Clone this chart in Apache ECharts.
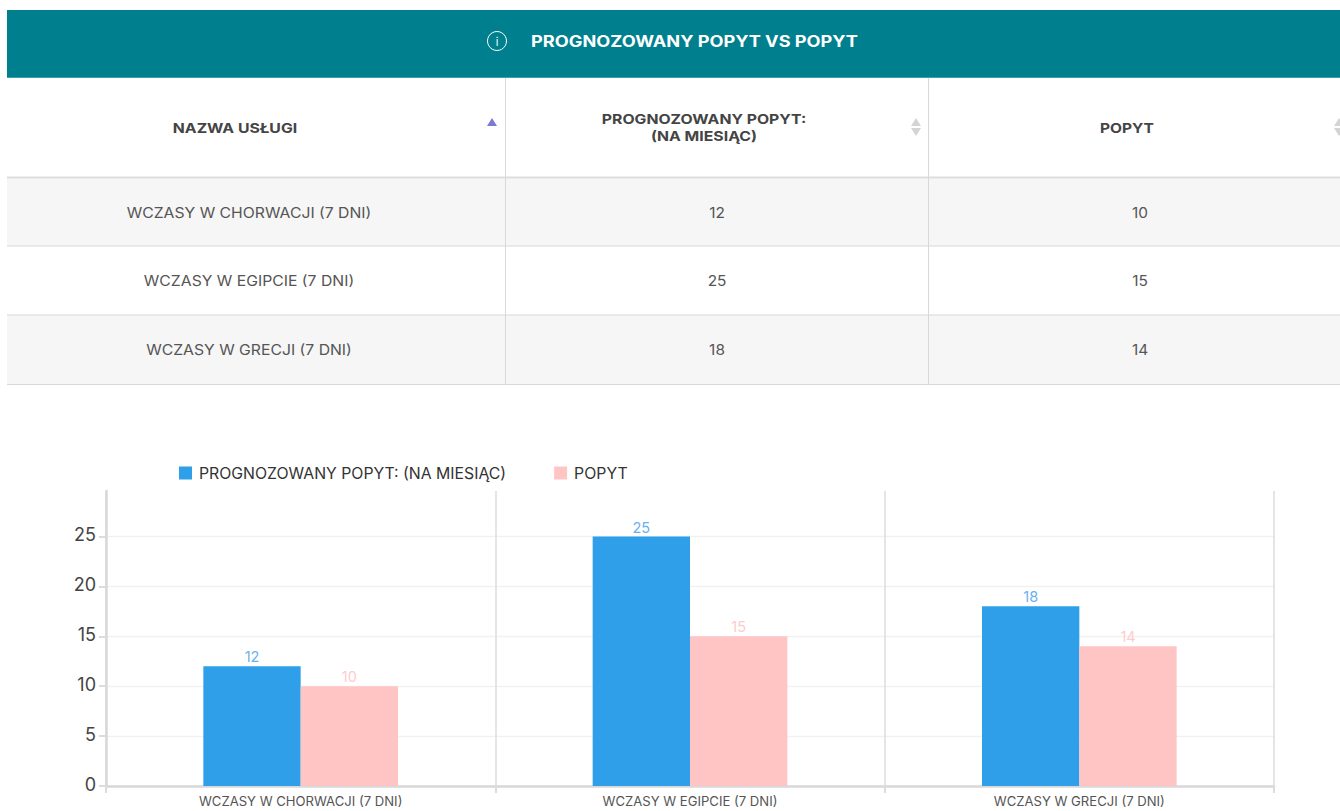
<!DOCTYPE html>
<html><head><meta charset="utf-8">
<style>html,body{margin:0;padding:0;background:#fff}#c{width:1340px;height:811px}</style>
<script src="https://cdn.jsdelivr.net/npm/echarts@6/dist/echarts.min.js"></script>
</head><body><div id="c"></div>
<script>
const tableTitle = 'PROGNOZOWANY POPYT VS POPYT';
const columnHeaders = ['NAZWA USŁUGI', 'PROGNOZOWANY POPYT:\n(NA MIESIĄC)', 'POPYT'];
const categories = ['WCZASY W CHORWACJI (7 DNI)', 'WCZASY W EGIPCIE (7 DNI)', 'WCZASY W GRECJI (7 DNI)'];
const forecastName = 'PROGNOZOWANY POPYT: (NA MIESIĄC)';
const demandName = 'POPYT';
const forecastValues = [12, 25, 18];
const demandValues = [10, 15, 14];

const FONT = 'Inter, "Open Sans", sans-serif';
const chart = echarts.init(document.getElementById('c'), null, {renderer: 'svg'});
const g = [];
const rect = (x, y, w, h, fill) => g.push({type: 'rect', silent: true, shape: {x, y, width: w, height: h}, style: {fill}});
const text = (x, y, t, size, weight, fill, sx, lh) => g.push({type: 'text', silent: true, x, y, scaleX: sx || 1, style: {
  text: t, fontFamily: FONT, fontSize: size, fontWeight: weight, fill, align: 'center', verticalAlign: 'middle', lineHeight: lh || size * 1.2}});
const tri = (x, yTop, w, h, up, fill) => g.push({type: 'polygon', silent: true, shape: {points: up
  ? [[x - w / 2, yTop + h], [x + w / 2, yTop + h], [x, yTop]]
  : [[x - w / 2, yTop], [x + w / 2, yTop], [x, yTop + h]]}, style: {fill}});

// banner
rect(7, 10, 1333, 67, '#00808e');
rect(7, 77, 1333, 1, '#3aa3ad');
g.push({type: 'circle', silent: true, shape: {cx: 497, cy: 41, r: 9.5}, style: {fill: 'none', stroke: '#fff', lineWidth: 1}});
text(497, 41.5, 'i', 11, 400, '#fff');
text(694.5, 41.5, tableTitle, 15.5, 700, '#fff', 1.172);

// rows
const rowTops = [178, 246, 315];
const rowH = 68;
rect(7, rowTops[0], 1333, rowH, '#f6f6f6');
rect(7, rowTops[2], 1333, rowH + 1, '#f6f6f6');
rect(7, 176.5, 1333, 2, '#dddddd');
rowTops.slice(1).forEach(y => rect(7, y - 0.5, 1333, 1, '#d8d8d8'));
rect(7, 384, 1333, 1, '#d8d8d8');
rect(505, 78, 1, 307, '#d8d8d8');
rect(928, 78, 1, 307, '#d8d8d8');

// header
text(235, 128.5, columnHeaders[0], 13.5, 700, '#444', 1.17);
text(704, 128, columnHeaders[1], 13.5, 700, '#444', 1.17, 17);
text(1127, 128.5, columnHeaders[2], 13.5, 700, '#444', 1.15);
tri(492, 118, 10, 8, true, '#7b7bd6');
[916, 1339].forEach(x => {
  tri(x, 118, 10, 8, true, '#d4d4d4');
  tri(x, 128, 10, 8, false, '#d4d4d4');
});

// body
categories.forEach((c, i) => {
  const y = rowTops[i] + 35;
  text(249, y, c, 14, 400, '#555', 1.125);
  text(717, y, String(forecastValues[i]), 14, 400, '#555', 1.1);
  text(1140, y, String(demandValues[i]), 14, 400, '#555', 1.1);
});

chart.setOption({
  animation: false,
  textStyle: {fontFamily: FONT},
  grid: {left: 106, right: 66, top: 491, bottom: 25, containLabel: false},
  legend: {
    left: 174, top: 460, icon: 'rect', itemWidth: 13, itemHeight: 13, itemGap: 48,
    textStyle: {fontSize: 15.8, color: '#333', fontFamily: FONT, padding: [0, 0, 0, 2]},
    data: [forecastName, demandName]
  },
  xAxis: {
    type: 'category', data: categories,
    axisLine: {lineStyle: {color: '#d8d8d8', width: 2.5}},
    axisTick: {show: true, length: 7, alignWithLabel: false, lineStyle: {color: '#dcdcdc', width: 2}},
    axisLabel: {fontSize: 13.1, color: '#555', margin: 8, fontFamily: FONT},
    splitLine: {show: true, lineStyle: {color: '#dcdcdc', width: 1.5}}
  },
  yAxis: {
    type: 'value', min: 0, max: 29.56, interval: 5,
    axisLine: {show: true, lineStyle: {color: '#d8d8d8', width: 2.5}},
    axisTick: {show: true, length: 7, lineStyle: {color: '#dcdcdc', width: 2}},
    axisLabel: {fontSize: 18, color: '#444', margin: 10, showMaxLabel: false, fontFamily: FONT, verticalAlign: 'bottom', lineHeight: 4},
    splitLine: {show: true, showMaxLine: false, lineStyle: {color: '#f1f1f1', width: 1.3}}
  },
  series: [
    {name: forecastName, type: 'bar', data: forecastValues, barWidth: '25%', barGap: 0, itemStyle: {color: '#2e9fe8'},
     label: {show: true, position: 'top', distance: 2, fontSize: 14.5, color: '#6cb0f0'}},
    {name: demandName, type: 'bar', data: demandValues, barWidth: '25%', barGap: 0, itemStyle: {color: '#ffc4c4'},
     label: {show: true, position: 'top', distance: 2, fontSize: 14.5, color: '#ffcccc'}}
  ],
  graphic: {elements: g}
});
</script></body></html>
